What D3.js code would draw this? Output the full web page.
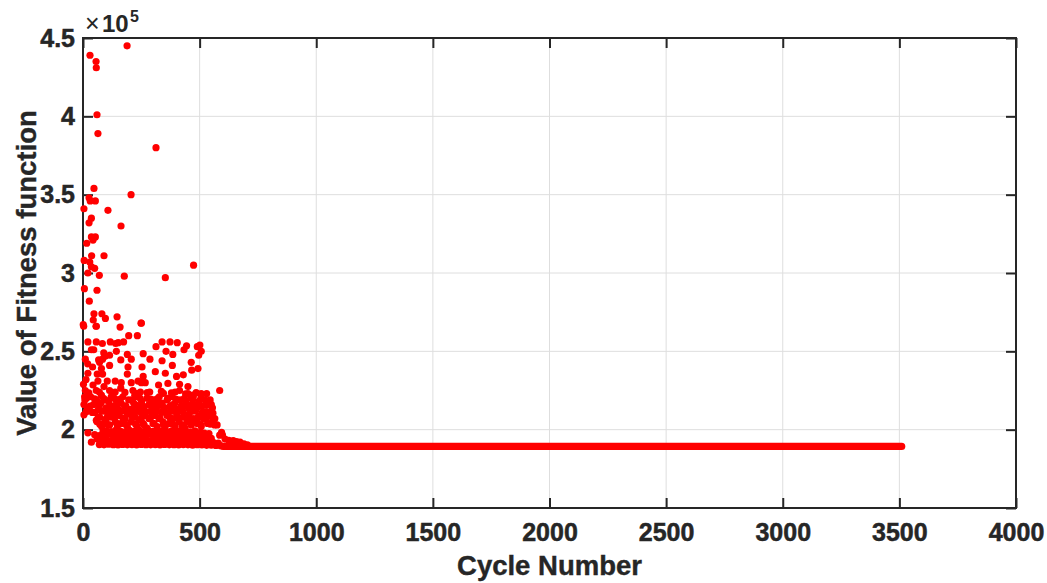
<!DOCTYPE html>
<html>
<head>
<meta charset="utf-8">
<script src="https://cdn.jsdelivr.net/npm/d3@7"></script>
<style>
  html, body { margin: 0; padding: 0; background: #ffffff; }
  svg { display: block; }
  text { fill: #262626; }
  .tick text { font-family: "Liberation Sans", Arial, sans-serif !important; font-size: 25px !important; font-weight: bold !important; stroke: #262626; stroke-width: 0.5px; }
  .lbl { font-family: "Liberation Sans", Arial, sans-serif; font-size: 27.5px; font-weight: bold; stroke: #262626; stroke-width: 0.4px; }
  .exp-base { font-family: "Liberation Sans", Arial, sans-serif; font-size: 25px; font-weight: normal; }
  .exp-num { font-family: "Liberation Sans", Arial, sans-serif; font-size: 24px; font-weight: bold; }
  .exp-sup { font-family: "Liberation Sans", Arial, sans-serif; font-size: 16px; font-weight: bold; }
</style>
</head>
<body>
<svg id="chart" width="1047" height="583"></svg>
<script>
// ---------------- DATA (values in units of 10^5) ----------------
const xTicks = [0, 500, 1000, 1500, 2000, 2500, 3000, 3500, 4000];
const yTicks = [1.5, 2, 2.5, 3, 3.5, 4, 4.5];
const xLabel = "Cycle Number";
const yLabel = "Value of Fitness function";
const exponent = 5;

// sparse high-valued points: [cycle, fitness x1e5]
const sparsePoints = [
  [30,4.39],[189,4.45],[56,4.35],[57,4.31],[60,4.01],[64,3.89],[313,3.80],[47,3.54],[206,3.50],
  [26,3.48],[31,3.46],[53,3.46],[4,3.41],[107,3.40],[36,3.35],[26,3.32],[163,3.30],[36,3.23],
  [53,3.23],[43,3.21],[16,3.19],[37,3.11],[90,3.11],[5,3.08],[29,3.07],[474,3.05],[36,3.04],
  [50,3.03],[21,3.00],[70,2.985],[177,2.98],[353,2.97],[6,2.90],[60,2.89],[27,2.82],[47,2.74],
  [81,2.74],[96,2.71],[44,2.70],[146,2.72],[249,2.68],[1,2.67],[56,2.66],[159,2.655],[3,2.66],
  [57,2.66],[250,2.68],[196,2.60],[233,2.60]
];

// mid-range points (2.2 .. 2.6)
const midPoints = [
  [21,2.56],[57,2.56],[83,2.55],[117,2.56],[140,2.55],[151,2.555],[174,2.56],[36,2.51],[46,2.51],
  [89,2.49],[96,2.47],[114,2.475],[143,2.50],[10,2.45],[67,2.445],[84,2.45],[20,2.42],[162,2.445],
  [190,2.48],[207,2.45],[258,2.485],[287,2.45],[313,2.53],[339,2.56],[339,2.44],[356,2.50],
  [373,2.56],[404,2.555],[385,2.48],[383,2.41],[433,2.51],[444,2.535],[490,2.53],[501,2.54],
  [507,2.50],[496,2.475],[464,2.43],[493,2.39],[466,2.38],[71,2.43],[114,2.41],[79,2.39],
  [41,2.40],[193,2.40],[253,2.40],[310,2.37],[353,2.36],[401,2.34],[430,2.35],[258,2.34],
  [190,2.355],[21,2.36],[61,2.355],[84,2.355],[13,2.32],[64,2.31],[104,2.31],[138,2.31],
  [164,2.30],[207,2.30],[236,2.31],[250,2.30],[267,2.30],[324,2.285],[364,2.295],[414,2.29],
  [450,2.275],[2,2.29],[43,2.285],[90,2.275],[162,2.265],[586,2.25],[10,2.25],[57,2.25],
  [114,2.25],[138,2.24],[214,2.25],[246,2.24],[286,2.24],[336,2.245],[379,2.235],[414,2.25],
  [450,2.23],[507,2.23],[473,2.21],[321,2.20],[364,2.20],[222,2.22],[14,2.21],[79,2.22],
  [7,2.21],[507,2.22],[471,2.22],[529,2.115],[493,2.08],[550,2.16],[557,2.105],[564,2.03],[586,1.965]
];

// upper part of the dense cloud (2.13 .. 2.22)
const cloudUpper = [
  [8,2.19],[19,2.14],[33,2.21],[45,2.16],[58,2.19],[66,2.13],[77,2.17],[88,2.20],[99,2.14],
  [110,2.18],[121,2.21],[129,2.15],[141,2.19],[152,2.13],[163,2.17],[171,2.21],[184,2.15],
  [196,2.19],[205,2.13],[217,2.17],[228,2.21],[239,2.15],[251,2.18],[262,2.14],[274,2.20],
  [283,2.16],[296,2.13],[305,2.19],[318,2.15],[327,2.21],[339,2.17],[350,2.14],[361,2.19],
  [373,2.15],[382,2.21],[394,2.17],[406,2.13],[417,2.19],[428,2.15],[440,2.18],[451,2.14],
  [463,2.20],[474,2.16],[486,2.13],[497,2.18],[510,2.15],[523,2.19],[538,2.16],
  [4,2.16],[4,2.095],[14,2.115]
];

// middle part of the dense cloud (2.00 .. 2.13)
const cloudMiddle = [
  [52,2.11],[60,2.05],[71,2.08],[80,2.02],[88,2.12],[97,2.06],[106,2.10],[114,2.03],[122,2.08],
  [131,2.12],[139,2.05],[147,2.01],[156,2.09],[164,2.04],[172,2.12],[181,2.07],[190,2.02],
  [198,2.10],[207,2.05],[215,2.12],[224,2.08],[232,2.02],[241,2.06],[249,2.11],[257,2.04],
  [266,2.09],[275,2.01],[283,2.07],[292,2.12],[300,2.04],[309,2.09],[318,2.02],[326,2.07],
  [335,2.11],[343,2.05],[352,2.01],[360,2.09],[369,2.04],[378,2.12],[386,2.07],[395,2.02],
  [403,2.10],[412,2.05],[421,2.12],[429,2.08],[438,2.01],[446,2.05],[455,2.10],[464,2.03],
  [472,2.07],[481,2.12],[490,2.04],[498,2.09],[507,2.02],[516,2.07],[525,2.11],[534,2.04],
  [544,2.09],[556,2.06],[57,2.06],[93,2.05]
];

// additional fill of the cloud between 2.03 and 2.24
const cloudFill = [
  [25,2.235],[70,2.24],[125,2.232],[180,2.238],[230,2.23],[275,2.236],[345,2.232],[395,2.24],[440,2.228],[485,2.236],[530,2.23],
  [15,2.2],[50,2.196],[95,2.19],[135,2.2],[160,2.195],[210,2.19],[245,2.2],[290,2.195],[315,2.19],[365,2.2],[400,2.193],[435,2.2],[470,2.19],[505,2.198],[545,2.19],
  [30,2.15],[70,2.158],[115,2.155],[145,2.16],[178,2.152],[225,2.158],[258,2.15],[300,2.156],[340,2.152],[385,2.158],[420,2.15],[458,2.156],[500,2.15],[530,2.158],[555,2.14],
  [40,2.11],[80,2.118],[118,2.113],[150,2.118],[188,2.11],[230,2.116],[270,2.112],[315,2.118],[355,2.11],[392,2.116],[430,2.112],[470,2.118],[512,2.11],[548,2.115],
  [65,2.078],[100,2.072],[135,2.078],[172,2.073],[212,2.079],[250,2.072],[290,2.078],[330,2.073],[372,2.079],[410,2.072],[450,2.078],[490,2.073],[530,2.078],[565,2.07],
  [72,2.035],[108,2.03],[145,2.038],[185,2.032],[225,2.036],[262,2.03],[305,2.038],[345,2.032],[385,2.036],[425,2.03],[465,2.038],[505,2.032],[545,2.036],[575,2.03]
];

// lower, nearly solid part of the cloud (1.89 .. 2.00)
const cloudLower = [
  [70,1.905],[90,1.903],[110,1.907],[130,1.904],[150,1.902],[170,1.906],[190,1.903],[210,1.905],
  [230,1.902],[250,1.906],[270,1.904],[290,1.903],[310,1.905],[330,1.902],[350,1.906],[370,1.903],
  [390,1.904],[410,1.902],[430,1.905],[450,1.903],[470,1.901],[490,1.904],[510,1.902],[530,1.900],
  [550,1.901],[570,1.899],[590,1.898],
  [60,1.94],[80,1.933],[100,1.937],[120,1.931],[140,1.936],[160,1.934],[180,1.938],[200,1.932],
  [220,1.936],[240,1.933],[260,1.937],[280,1.931],[300,1.935],[320,1.938],[340,1.932],[360,1.936],
  [380,1.934],[400,1.931],[420,1.936],[440,1.933],[460,1.929],[480,1.932],[500,1.927],[520,1.925],
  [540,1.922],[560,1.918],[580,1.915],
  [50,1.968],[70,1.962],[90,1.966],[110,1.971],[130,1.963],[150,1.967],[170,1.961],[190,1.969],
  [210,1.964],[230,1.968],[250,1.962],[270,1.966],[290,1.97],[310,1.963],[330,1.967],[350,1.961],
  [370,1.969],[390,1.964],[410,1.96],[430,1.966],[450,1.958],[470,1.962],[490,1.955],[510,1.95],
  [530,1.947],[550,1.944],
  [100,1.993],[120,1.988],[140,1.996],[160,1.991],[180,1.986],[200,1.995],[220,1.99],[240,1.997],
  [260,1.987],[280,1.994],[300,1.989],[320,1.996],[340,1.991],[360,1.985],[380,1.993],[400,1.988],
  [420,1.995],[440,1.99],[460,1.984],[480,1.992],[500,1.982],[520,1.978],[540,1.975],
  [21,1.98],[36,1.92],[86,1.99],[64,1.945]
];

// transition into the converged tail
const transitionPoints = [
  [594,1.983],[598,1.966],[609,1.94],[625,1.932],[644,1.93],[658,1.924],[673,1.92],[690,1.91],[705,1.903]
];

// converged tail: constant fitness from cycle ~600 to the last cycle
const tailPoints = [[600,1.893],[3510,1.893]];

// ---------------- CHART ----------------
const svg = d3.select("#chart");
const plot = { left: 83, right: 1016, top: 38, bottom: 508 };
const ink = "#262626";

const x = d3.scaleLinear().domain([0, 4000]).range([plot.left, plot.right]);
const y = d3.scaleLinear().domain([1.5, 4.5]).range([plot.bottom, plot.top]);

// grid
const grid = svg.append("g");
grid.selectAll("line.v").data(xTicks).join("line")
  .attr("x1", d => x(d)).attr("x2", d => x(d))
  .attr("y1", plot.top).attr("y2", plot.bottom)
  .attr("stroke", "#dedede").attr("stroke-width", 1);
grid.selectAll("line.h").data(yTicks).join("line")
  .attr("y1", d => y(d)).attr("y2", d => y(d))
  .attr("x1", plot.left).attr("x2", plot.right)
  .attr("stroke", "#dedede").attr("stroke-width", 1);

// axes
const bottomAxis = svg.append("g").attr("transform", `translate(0,${plot.bottom})`)
  .call(d3.axisBottom(x).tickValues(xTicks).tickSizeInner(-10).tickSizeOuter(0).tickPadding(15).tickFormat(d => String(d)));
const leftAxis = svg.append("g").attr("transform", `translate(${plot.left},0)`)
  .call(d3.axisLeft(y).tickValues(yTicks).tickSizeInner(-10).tickSizeOuter(0).tickPadding(8).tickFormat(d => String(d)));
const topAxis = svg.append("g").attr("transform", `translate(0,${plot.top})`)
  .call(d3.axisTop(x).tickValues(xTicks).tickSizeInner(-10).tickSizeOuter(0).tickFormat(""));
const rightAxis = svg.append("g").attr("transform", `translate(${plot.right},0)`)
  .call(d3.axisRight(y).tickValues(yTicks).tickSizeInner(-10).tickSizeOuter(0).tickFormat(""));

[bottomAxis, leftAxis, topAxis, rightAxis].forEach(g => {
  g.attr("font-size", null).attr("font-family", null);
  g.select(".domain").remove();
  g.selectAll(".tick line").attr("stroke", ink).attr("stroke-width", 2);
  g.selectAll(".tick text").attr("fill", ink);
});

// box
svg.append("rect")
  .attr("x", plot.left).attr("y", plot.top)
  .attr("width", plot.right - plot.left).attr("height", plot.bottom - plot.top)
  .attr("fill", "none").attr("stroke", ink).attr("stroke-width", 2);

// axis labels
svg.append("text").attr("class", "lbl")
  .attr("x", (plot.left + plot.right) / 2).attr("y", 575)
  .attr("text-anchor", "middle")
  .text(xLabel);

svg.append("text").attr("class", "lbl")
  .attr("transform", `translate(36,${(plot.top + plot.bottom) / 2}) rotate(-90)`)
  .attr("text-anchor", "middle")
  .text(yLabel);

// exponent label (separate text elements)
svg.append("text").attr("class", "exp-base").attr("x", 85).attr("y", 32).text("\u00D7");
svg.append("text").attr("class", "exp-num").attr("x", 102).attr("y", 32).text("10");
svg.append("text").attr("class", "exp-sup").attr("x", 130).attr("y", 22).text(String(exponent));

// data
const red = "#ff0000";
const r = 3.6;
const dataLayer = svg.append("g");

dataLayer.append("path")
  .datum(tailPoints)
  .attr("d", d3.line().x(d => x(d[0])).y(d => y(d[1])))
  .attr("fill", "none").attr("stroke", red)
  .attr("stroke-width", 2 * r).attr("stroke-linecap", "round");

const allPoints = [].concat(cloudLower, cloudMiddle, cloudFill, cloudUpper, midPoints, sparsePoints, transitionPoints);
dataLayer.selectAll("circle").data(allPoints).join("circle")
  .attr("cx", d => x(d[0])).attr("cy", d => y(d[1]))
  .attr("r", r).attr("fill", red);
</script>
</body>
</html>
